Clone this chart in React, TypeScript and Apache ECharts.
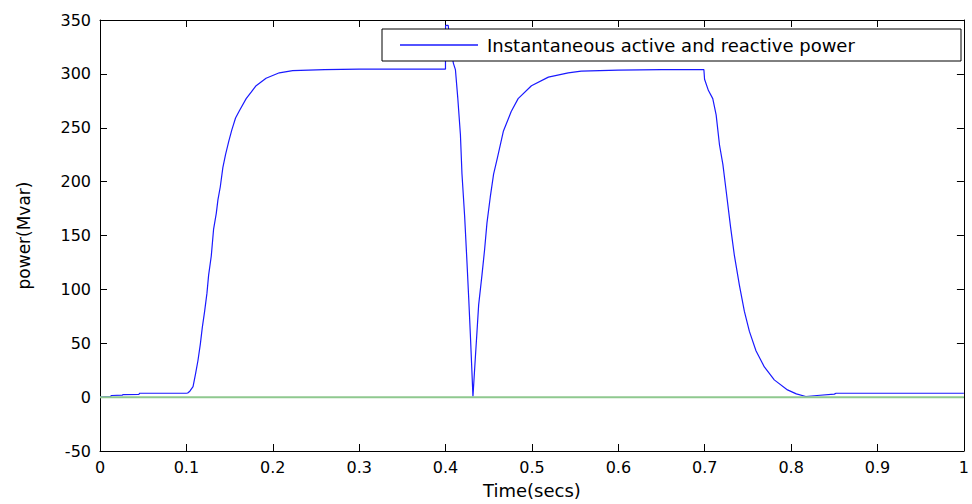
import React, { useEffect, useRef } from "react";
import * as echarts from "echarts";

const xTickValues = [0, 0.1, 0.2, 0.3, 0.4, 0.5, 0.6, 0.7, 0.8, 0.9, 1];
const yTickValues = [-50, 0, 50, 100, 150, 200, 250, 300, 350];

const seriesPowerName = "Instantaneous active and reactive power";

const timePower = [
  0, 0.012, 0.0135, 0.026, 0.0265, 0.045, 0.046, 0.1, 0.1015, 0.104,
  0.1077, 0.1107, 0.1134, 0.1161, 0.1184, 0.1211, 0.1238, 0.1257, 0.1288, 0.1315,
  0.1346, 0.1365, 0.1392, 0.1422, 0.1453, 0.1491, 0.1526, 0.1569, 0.1615, 0.1692,
  0.175, 0.1807, 0.1922, 0.2076, 0.223, 0.26, 0.3, 0.3999,
  0.4, 0.403, 0.406, 0.409, 0.4114, 0.4141, 0.4172, 0.419, 0.4221, 0.4248,
  0.4268, 0.4287, 0.4306, 0.4317,
  0.4345, 0.4364, 0.4383, 0.4421, 0.4452, 0.4479, 0.4518, 0.4556, 0.46, 0.467,
  0.476, 0.484, 0.4994, 0.519, 0.542, 0.557, 0.6, 0.65, 0.699,
  0.6998, 0.7043, 0.7093, 0.7132, 0.7171, 0.721, 0.7247, 0.7298, 0.7344, 0.7401,
  0.7459, 0.7517, 0.7593, 0.769, 0.7805, 0.7958, 0.806, 0.817, 0.83, 0.85,
  0.852, 1,
];

const valuePower = [
  0, 0.5, 1.5, 1.8, 2.4, 2.6, 3.6, 3.6, 3.8, 5.5,
  9.7, 22, 34, 49, 64.5, 79.6, 96.5, 113, 131, 156,
  170.6, 183, 195, 213, 225, 237.5, 248, 259, 266, 277,
  283, 289, 296, 301, 303, 304, 304.5, 304.5,
  345, 345, 325, 310, 304, 278, 243.5, 207, 167.6, 125,
  91.7, 58, 22, 0.6,
  37, 61, 85.6, 113, 137, 161.5, 186, 207, 222, 247,
  265, 277, 289, 297, 301, 302.5, 303.5, 304, 304,
  295, 284.5, 277, 262, 234, 216, 192, 158.5, 131, 104,
  79.5, 61, 43, 28, 16, 6.7, 3, 0.6, 1.5, 2.8,
  3.6, 3.6,
];

const timeZero = [0, 1];
const valueZero = [0, 0];

export default function App() {
  const ref = useRef<HTMLDivElement>(null);

  useEffect(() => {
    if (!ref.current) return;
    const chart = echarts.init(ref.current, undefined, { renderer: "svg" });
    const font = "DejaVu Sans";
    const fmtX = (v: number) => String(Math.round(v * 10) / 10);
    const axisCommon = {
      type: "value" as const,
      axisLine: { show: true, onZero: false, lineStyle: { color: "#000", width: 1 } },
      axisTick: { show: true, inside: true, length: 7, lineStyle: { color: "#000" } },
      splitLine: { show: false },
    };
    chart.setOption({
      animation: false,
      backgroundColor: "#fff",
      grid: { left: 100, right: 4, top: 20, bottom: 45, containLabel: false },
      legend: {
        show: true,
        data: [{ name: seriesPowerName, icon: "rect" }],
        left: 382,
        top: 29,
        orient: "horizontal",
        backgroundColor: "#fff",
        borderColor: "#000",
        borderWidth: 1,
        borderRadius: 0,
        padding: [6, 10, 6, 18],
        itemWidth: 78,
        itemHeight: 1.3,
        itemGap: 10,
        itemStyle: { color: "#1a1aff", borderWidth: 0 },
        textStyle: {
          fontFamily: font,
          fontSize: 18,
          color: "#000",
          width: 464,
          lineHeight: 20,
          padding: [0, 0, 0, 4],
        },
        z: 20,
      },
      xAxis: [
        {
          ...axisCommon,
          position: "bottom",
          min: xTickValues[0],
          max: xTickValues[xTickValues.length - 1],
          interval: 0.1,
          axisLabel: {
            show: true,
            margin: 8,
            color: "#000",
            fontFamily: font,
            fontSize: 16,
            formatter: fmtX,
          },
          name: "Time(secs)",
          nameLocation: "middle",
          nameGap: 30,
          nameTextStyle: { fontFamily: font, fontSize: 18, color: "#000" },
        },
        {
          ...axisCommon,
          position: "top",
          min: xTickValues[0],
          max: xTickValues[xTickValues.length - 1],
          interval: 0.1,
          axisLabel: { show: false },
        },
      ],
      yAxis: [
        {
          ...axisCommon,
          position: "left",
          min: yTickValues[0],
          max: yTickValues[yTickValues.length - 1],
          interval: 50,
          axisLabel: {
            show: true,
            margin: 9,
            color: "#000",
            fontFamily: font,
            fontSize: 16,
          },
          name: "power(Mvar)",
          nameLocation: "middle",
          nameGap: 68,
          nameRotate: 90,
          nameTextStyle: { fontFamily: font, fontSize: 17, color: "#000" },
        },
        {
          ...axisCommon,
          position: "right",
          min: yTickValues[0],
          max: yTickValues[yTickValues.length - 1],
          interval: 50,
          axisLabel: { show: false },
        },
      ],
      series: [
        {
          name: seriesPowerName,
          type: "line",
          xAxisIndex: 0,
          yAxisIndex: 0,
          data: timePower.map((t, i) => [t, valuePower[i]]),
          symbol: "none",
          showSymbol: false,
          lineStyle: { color: "#1a1aff", width: 1.2 },
          itemStyle: { color: "#1a1aff" },
          z: 2,
        },
        {
          name: "zero",
          type: "line",
          xAxisIndex: 0,
          yAxisIndex: 0,
          data: timeZero.map((t, i) => [t, valueZero[i]]),
          symbol: "none",
          showSymbol: false,
          lineStyle: { color: "#8fc98f", width: 2 },
          itemStyle: { color: "#8fc98f" },
          z: 3,
        },
      ],
    });
    return () => chart.dispose();
  }, []);

  return (
    <div
      ref={ref}
      style={{ position: "fixed", left: 0, top: 0, width: 972, height: 504, background: "#fff" }}
    />
  );
}
